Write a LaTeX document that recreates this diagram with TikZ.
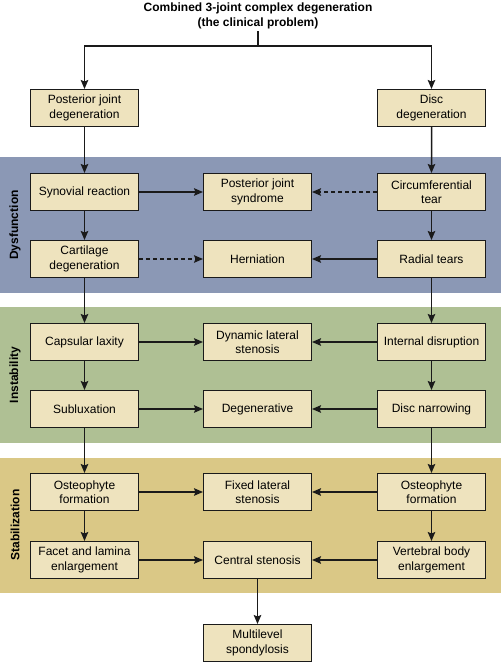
\documentclass[tikz,border=0pt]{standalone}
\usepackage{fontspec}
\setmainfont{Liberation Sans}
\usepackage{xcolor}
\usepackage{tikz}
\usetikzlibrary{arrows.meta, positioning}

\definecolor{dysblue}{HTML}{8B98B5}
\definecolor{instgreen}{HTML}{AFC094}
\definecolor{stabtan}{HTML}{DAC886}
\definecolor{boxcream}{HTML}{EEE3BE}
\definecolor{inkline}{HTML}{1A1A1A}

\begin{document}
\begin{tikzpicture}[
  x=1pt, y=1pt,
  every node/.style={font=\fontsize{12}{14.5}\selectfont},
  stage/.style={rectangle, draw=inkline, line width=1.3pt, fill=boxcream, minimum width=107.7pt, minimum height=36.7pt, inner sep=2pt, align=center},
  phase/.style={rotate=90, font=\fontsize{12}{14.5}\selectfont\bfseries},
  flow/.style={draw=inkline, line width=1.5pt, -{Stealth[length=9pt, width=7.5pt, inset=1.5pt]}},
  maybe/.style={flow, dash pattern=on 4pt off 3pt},
]
  \useasboundingbox (0,0) rectangle (501,-663);

  % phase bands
  \fill[dysblue]   (0,-157) rectangle (501,-293);
  \fill[instgreen] (0,-307) rectangle (501,-443);
  \fill[stabtan]   (0,-458) rectangle (501,-593);
  \node[phase] (dysf) at (15,-225) {Dysfunction};
  \node[phase] (inst) at (15,-375) {Instability};
  \node[phase] (stab) at (15,-525) {Stabilization};

  \node[font=\fontsize{12}{14.5}\selectfont\bfseries, align=center, inner sep=2pt] (problem) at (258,-16)
    {Combined 3-joint complex degeneration\\(the clinical problem)};
  \coordinate (split) at (258,-46);

  \node[stage] (pjd)  at (84.5,-108) {Posterior joint\\degeneration};
  \node[stage] (disc) at (431.5,-108) {Disc\\degeneration};

  \node[stage, below=46pt of pjd]  (syn)   {Synovial reaction};
  \node[stage, right=64pt of syn]  (pjs)   {Posterior joint\\syndrome};
  \node[stage, right=65pt of pjs]  (circ)  {Circumferential\\tear};
  \node[stage, below=29pt of syn]  (cart)  {Cartilage\\degeneration};
  \node[stage, right=64pt of cart] (hern)  {Herniation};
  \node[stage, right=65pt of hern] (rad)   {Radial tears};

  \node[stage, below=45pt of cart] (caps)  {Capsular laxity};
  \node[stage, right=64pt of caps] (dyn)   {Dynamic lateral\\stenosis};
  \node[stage, right=65pt of dyn]  (intd)  {Internal disruption};
  \node[stage, below=29pt of caps] (subl)  {Subluxation};
  \node[stage, right=64pt of subl] (degen) {Degenerative};
  \node[stage, right=65pt of degen] (narr) {Disc narrowing};

  \node[stage, below=45pt of subl] (ostl)  {Osteophyte\\formation};
  \node[stage, right=64pt of ostl] (fixd)  {Fixed lateral\\stenosis};
  \node[stage, right=65pt of fixd] (ostr)  {Osteophyte\\formation};
  \node[stage, below=30pt of ostl] (facet) {Facet and lamina\\enlargement};
  \node[stage, right=64pt of facet] (cent) {Central stenosis};
  \node[stage, right=65pt of cent] (vert)  {Vertebral body\\enlargement};

  \node[stage, below=45pt of cent] (multi) {Multilevel\\spondylosis};

  \draw[draw=inkline, line width=1.5pt] (problem) -- (split);
  \draw[flow] (split) -| (pjd);
  \draw[flow] (split) -| (disc);

  \draw[flow] (pjd) -- (syn);
  \draw[flow] (syn) -- (cart);
  \draw[flow] (cart) -- (caps);
  \draw[flow] (caps) -- (subl);
  \draw[flow] (subl) -- (ostl);
  \draw[flow] (ostl) -- (facet);

  \draw[flow] (disc) -- (circ);
  \draw[flow] (circ) -- (rad);
  \draw[flow] (rad) -- (intd);
  \draw[flow] (intd) -- (narr);
  \draw[flow] (narr) -- (ostr);
  \draw[flow] (ostr) -- (vert);

  \draw[flow]  (syn) -- (pjs);
  \draw[maybe] (circ) -- (pjs);
  \draw[maybe] (cart) -- (hern);
  \draw[flow]  (rad) -- (hern);
  \draw[flow]  (caps) -- (dyn);
  \draw[flow]  (intd) -- (dyn);
  \draw[flow]  (subl) -- (degen);
  \draw[flow]  (narr) -- (degen);
  \draw[flow]  (ostl) -- (fixd);
  \draw[flow]  (ostr) -- (fixd);
  \draw[flow]  (facet) -- (cent);
  \draw[flow]  (vert) -- (cent);
  \draw[flow]  (cent) -- (multi);
\end{tikzpicture}
\end{document}
